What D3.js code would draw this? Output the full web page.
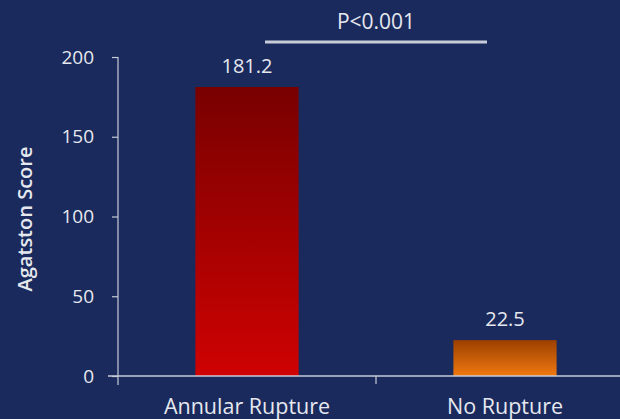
<!DOCTYPE html>
<html>
<head>
<meta charset="utf-8">
<script src="https://cdn.jsdelivr.net/npm/d3@7"></script>
<style>
  html, body { margin: 0; padding: 0; background: #1a2a5c; }
  svg { display: block; }
  text { font-family: "Open Sans", "Noto Sans", sans-serif; fill: #e6e8ef; }
</style>
</head>
<body>
<svg id="chart" width="620" height="419"></svg>
<script>
// Mean Agatston calcium score by annular outcome
const categories = ["Annular Rupture", "No Rupture"];
const scores = [181.2, 22.5];
const yTicks = [0, 50, 100, 150, 200];
const pLabel = "P<0.001";
const yTitle = "Agatston Score";

const svg = d3.select("#chart");
const W = 620, H = 419;
const plotLeft = 118, plotRight = 634, plotTop = 57, plotBottom = 376;

const x = d3.scaleBand().domain(categories).range([plotLeft, plotRight]).paddingInner(0.6).paddingOuter(0.3);
const y = d3.scaleLinear().domain([0, 200]).range([plotBottom, plotTop]);

svg.append("rect").attr("width", W).attr("height", H).attr("fill", "#1a2a5c");

// bar gradients: dark at top, bright at base
const defs = svg.append("defs");
const grads = [["gRed", "#780000", "#cf0202"], ["gOrange", "#9c4000", "#f07810"]];
grads.forEach(([id, c0, c1]) => {
  const g = defs.append("linearGradient").attr("id", id).attr("x1", 0).attr("y1", 0).attr("x2", 0).attr("y2", 1);
  g.append("stop").attr("offset", "0%").attr("stop-color", c0);
  g.append("stop").attr("offset", "100%").attr("stop-color", c1);
});

svg.selectAll("rect.bar").data(scores).join("rect")
  .attr("class", "bar")
  .attr("x", (d, i) => x(categories[i]))
  .attr("y", d => y(d))
  .attr("width", x.bandwidth())
  .attr("height", d => y(0) - y(d))
  .attr("fill", (d, i) => `url(#${grads[i][0]})`);

// value labels
svg.selectAll("text.val").data(scores).join("text")
  .attr("class", "val")
  .attr("x", (d, i) => x(categories[i]) + x.bandwidth() / 2)
  .attr("y", d => y(d) - 14)
  .attr("text-anchor", "middle")
  .attr("font-size", 20)
  .text(d => d.toFixed(1));

// y axis
const yAxis = svg.append("g").attr("transform", `translate(${plotLeft},0)`)
  .call(d3.axisLeft(y).tickValues(yTicks).tickSize(6).tickPadding(18));
yAxis.select(".domain").attr("d", `M0,${plotTop}V${plotBottom + 9}`);
yAxis.selectAll("line, path").attr("stroke", "#c8ccd8").attr("stroke-width", 1.2);
yAxis.selectAll("text").attr("font-size", 19).attr("fill", "#e6e8ef").attr("font-family", "Open Sans, sans-serif");

// x axis with a tick at the band boundary
const xg = svg.append("g").attr("transform", `translate(0,${plotBottom})`);
xg.append("line").attr("x1", plotLeft - 10).attr("x2", W).attr("y1", 0).attr("y2", 0)
  .attr("stroke", "#c8ccd8").attr("stroke-width", 1.5);
const step = x.step();
const mid = x(categories[0]) + x.bandwidth() + (step - x.bandwidth()) / 2;
xg.append("line").attr("x1", mid).attr("x2", mid).attr("y1", 0).attr("y2", 8)
  .attr("stroke", "#c8ccd8").attr("stroke-width", 1.2);
xg.selectAll("text.cat").data(categories).join("text")
  .attr("class", "cat")
  .attr("x", d => x(d) + x.bandwidth() / 2)
  .attr("y", 38)
  .attr("text-anchor", "middle")
  .attr("font-size", 21.5)
  .text(d => d);

// y title
svg.append("text")
  .attr("transform", `translate(32,${(143 + 295) / 2}) rotate(-90)`)
  .attr("text-anchor", "middle")
  .attr("font-size", 20)
  .attr("font-weight", 600)
  .text(yTitle);

// significance bracket
svg.append("line").attr("x1", 265).attr("x2", 487).attr("y1", 42).attr("y2", 42)
  .attr("stroke", "#c8ccd8").attr("stroke-width", 3);
svg.append("text").attr("x", 376).attr("y", 29).attr("text-anchor", "middle")
  .attr("font-size", 21).text(pLabel);
</script>
</body>
</html>
